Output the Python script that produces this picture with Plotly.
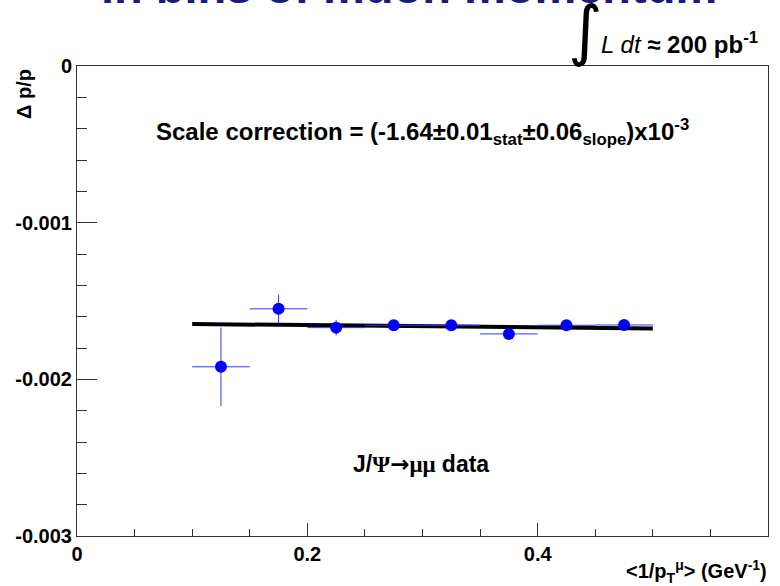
import plotly.graph_objects as go

# Muon momentum scale: fractional shift vs mean inverse transverse momentum
inv_pt = [0.125, 0.175, 0.225, 0.275, 0.325, 0.375, 0.425, 0.475]
dp_over_p = [-0.00192, -0.00155, -0.00167, -0.001655, -0.001655, -0.00171, -0.001655, -0.001653]
dp_err = [0.00025, 0.00009, 0.00005, 0.00002, 0.00002, 0.00002, 0.00002, 0.00003]
bin_half_width = [0.025] * 8

# Linear fit: intercept is the quoted scale correction
fit_intercept = -1.64e-3
fit_slope = -7.0e-5
fit_range = [0.1, 0.5]

x_tick_vals = [0, 0.2, 0.4, 0.6]
x_tick_text = ["0", "0.2", "0.4", "0.6"]
y_tick_vals = [0, -0.001, -0.002, -0.003]
y_tick_text = ["0", "-0.001", "-0.002", "-0.003"]

FONT = "Liberation Sans, Arial, sans-serif"
SERIF = "Liberation Serif, DejaVu Serif, serif"
W, H = 780, 586
ML, MR, MT, MB = 77, 12, 66, 50
PW, PH = W - ML - MR, H - MT - MB


def px(xpix):
    return (xpix - ML) / PW


def py(ypix):
    return (H - MB - ypix) / PH


def span(s, family):
    return f'<span style="font-family:{family}">{s}</span>'


fig = go.Figure()

fig.add_trace(go.Scatter(
    x=fit_range,
    y=[fit_intercept + fit_slope * v for v in fit_range],
    mode="lines",
    line=dict(color="black", width=4),
    showlegend=False,
))

fig.add_trace(go.Scatter(
    x=inv_pt, y=dp_over_p,
    mode="markers",
    marker=dict(color="#0000ff", size=12),
    error_x=dict(type="data", array=bin_half_width, color="#3333ff", thickness=1, width=0),
    error_y=dict(type="data", array=dp_err, color="#3333ff", thickness=1, width=0),
    showlegend=False,
))

axis_common = dict(
    showline=True, linecolor="#333333", linewidth=1, mirror=True,
    ticks="inside", tickcolor="#333333", tickwidth=1,
    showgrid=False, zeroline=False,
    tickfont=dict(family=FONT, size=20, color="black", weight="bold"),
    tickmode="array",
)

fig.update_xaxes(
    range=[0, 0.6], tickvals=x_tick_vals, ticktext=x_tick_text, ticklen=13,
    minor=dict(dtick=0.05, tick0=0, ticks="inside", ticklen=7, tickcolor="#333333"),
    **axis_common,
)
fig.update_yaxes(
    range=[-0.003, 0], tickvals=y_tick_vals, ticktext=y_tick_text, ticklen=20,
    minor=dict(dtick=0.0002, tick0=0, ticks="inside", ticklen=10, tickcolor="#333333"),
    **axis_common,
)

annotations = [
    dict(text="<b>in bins of muon momentum</b>", x=px(409), y=py(15), yanchor="bottom",
         font=dict(family=FONT, size=47, color="#1a1a80")),
    dict(text="∫", x=px(604), y=py(31), yanchor="middle",
         font=dict(family="DejaVu Sans", size=66, color="black")),
    dict(text="<i>L dt</i> <b>≈ 200 pb<sup>-1</sup></b>", x=px(599), y=py(43),
         xanchor="left", yanchor="middle",
         font=dict(family=FONT, size=24, color="black")),
    dict(text="<b>Scale correction = (-1.64±0.01<sub>stat</sub>±0.06<sub>slope</sub>)x10<sup>-3</sup></b>",
         x=px(422), y=py(132), yanchor="middle",
         font=dict(family=FONT, size=24, color="black")),
    dict(text="<b>J/" + span("Ψ", SERIF) + span("→", "DejaVu Sans") + span("μμ", SERIF) + " data</b>",
         x=px(421), y=py(464), yanchor="middle",
         font=dict(family=FONT, size=23, color="black")),
    dict(text="<b>Δ p/p</b>", x=px(24), y=py(67), textangle=-90,
         xanchor="center", yanchor="top",
         font=dict(family=FONT, size=20, color="black")),
    dict(text="<b><1/p<sub>T</sub><sup>μ</sup>> (GeV<sup>-1</sup>)</b>", x=px(769), y=py(571),
         xanchor="right", yanchor="middle",
         font=dict(family=FONT, size=20, color="black")),
]
for a in annotations:
    a.update(xref="paper", yref="paper", showarrow=False)
fig.update_layout(annotations=annotations)

fig.update_layout(
    width=W, height=H,
    margin=dict(l=ML, r=MR, t=MT, b=MB, pad=0),
    paper_bgcolor="white", plot_bgcolor="white",
)

fig.write_html("out.html")
